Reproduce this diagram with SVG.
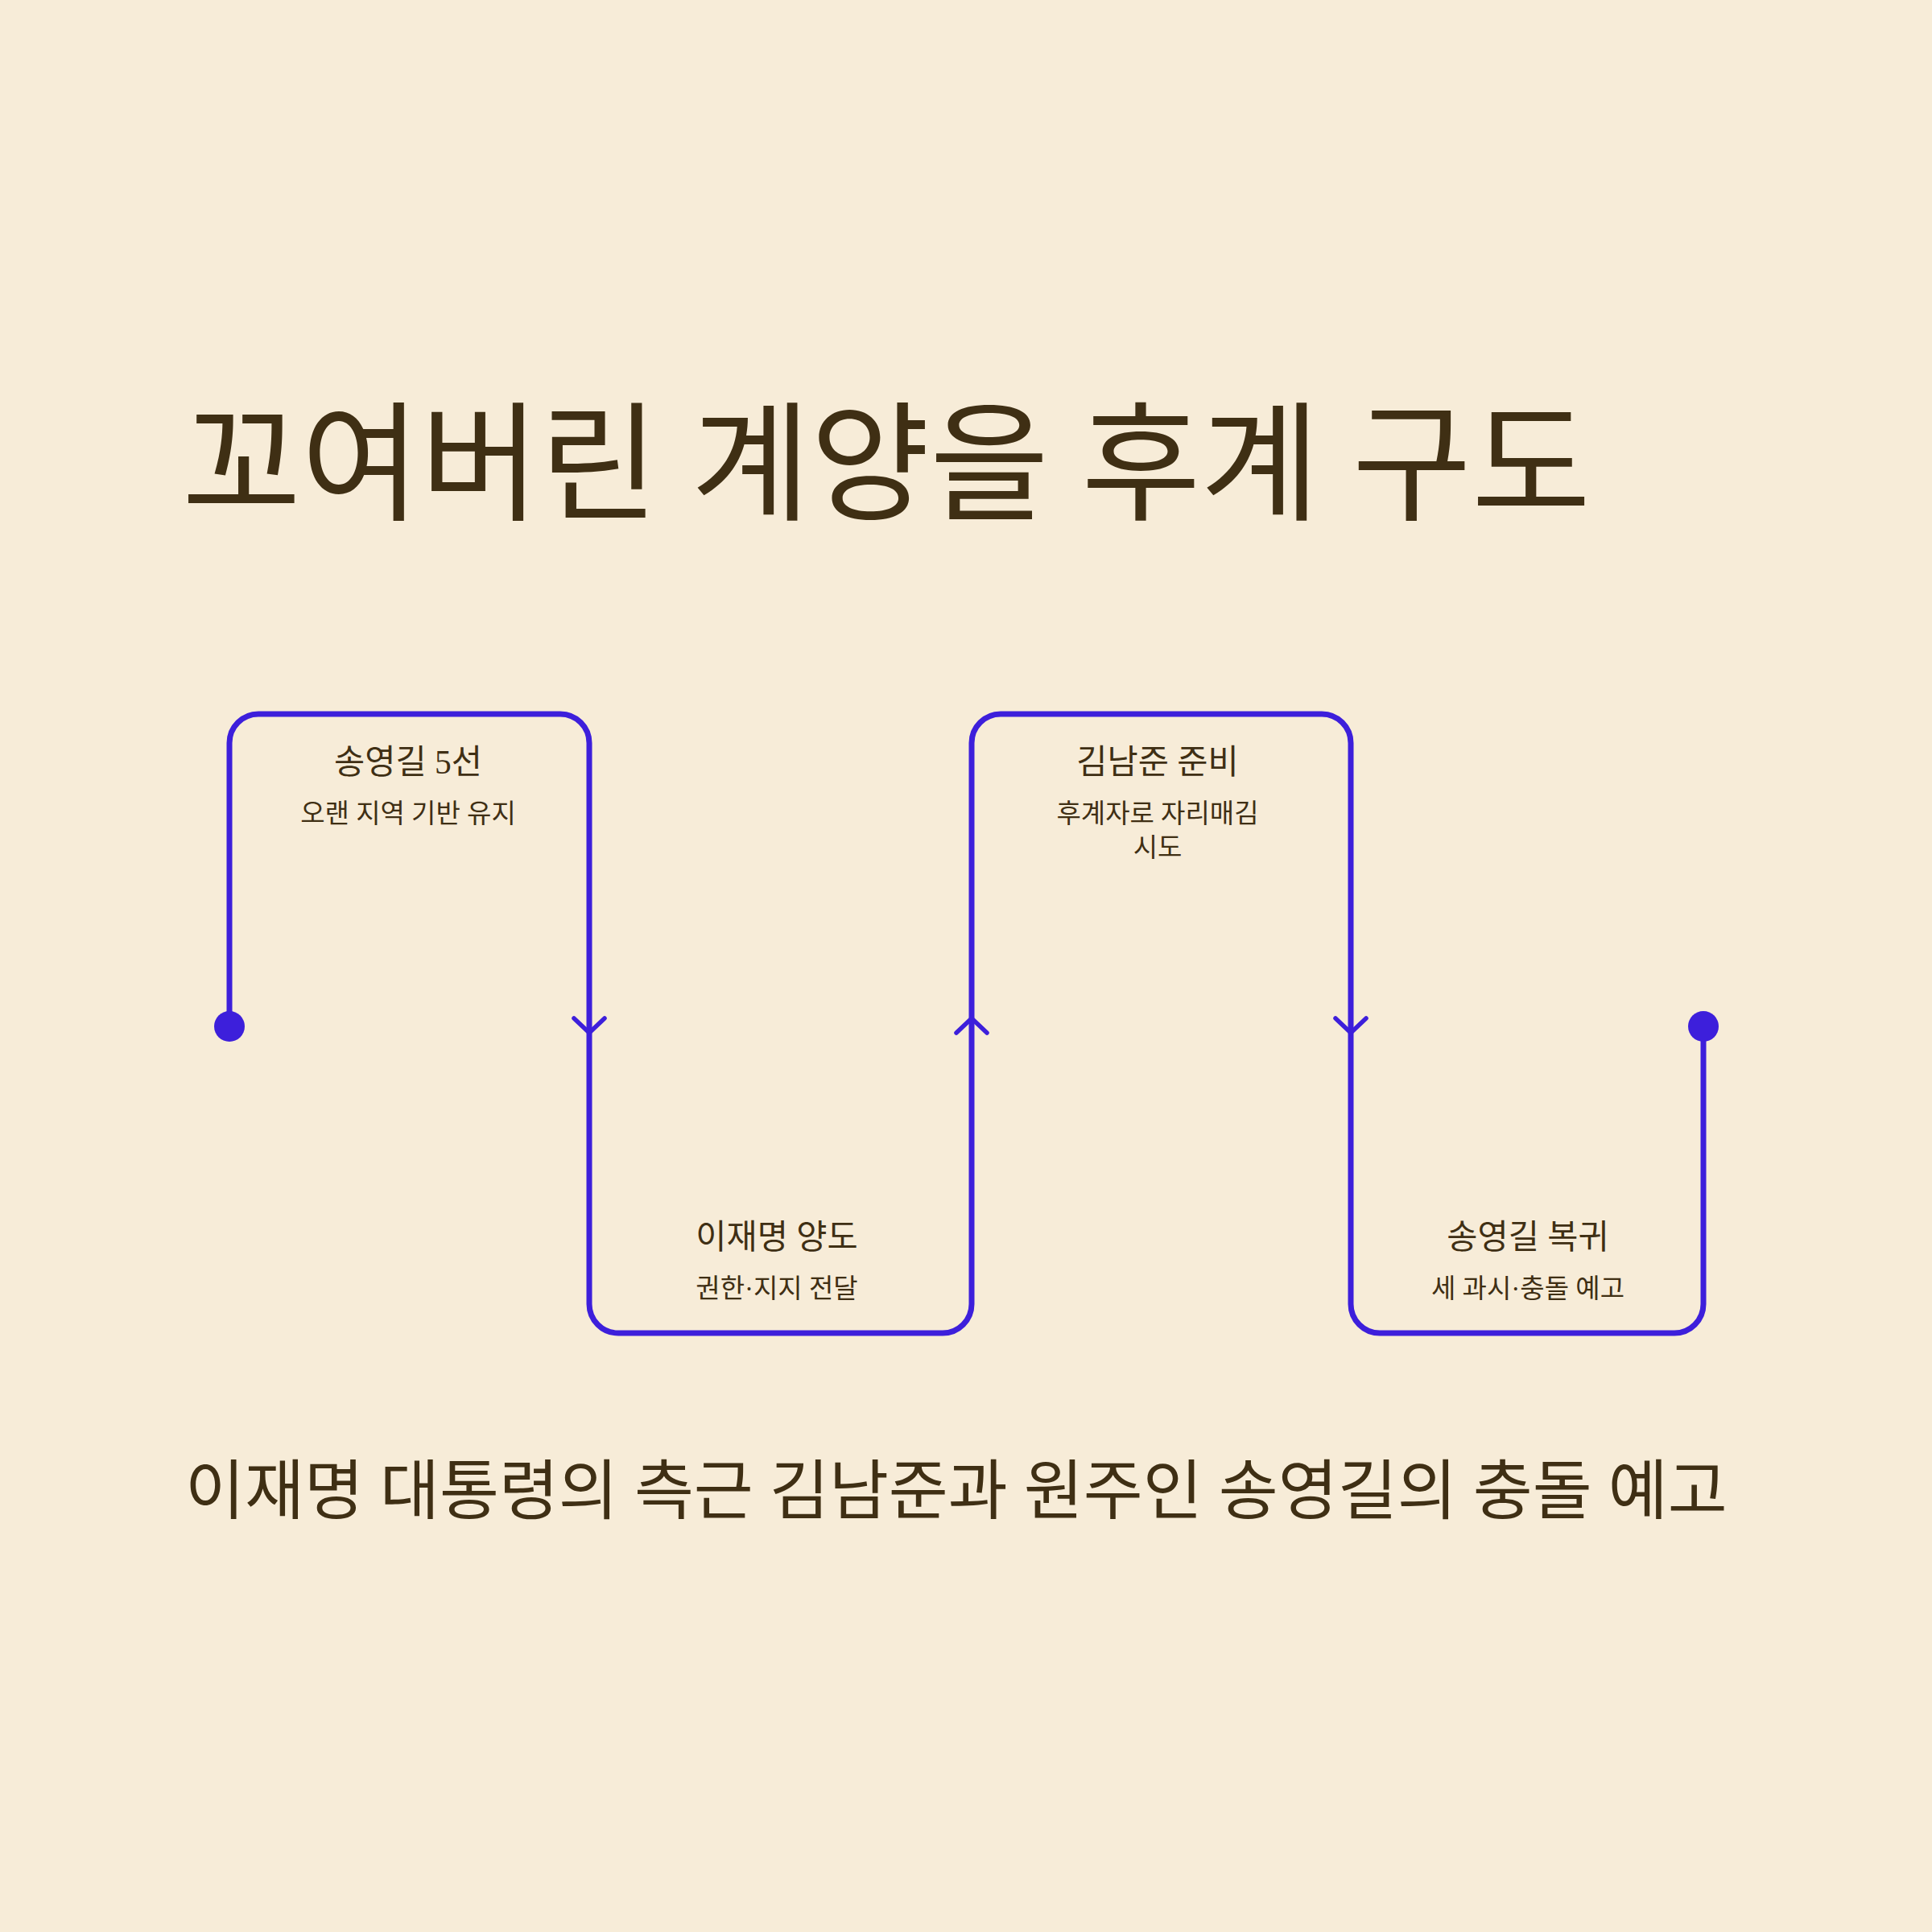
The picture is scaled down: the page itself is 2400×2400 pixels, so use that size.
<svg xmlns="http://www.w3.org/2000/svg" width="2400" height="2400" viewBox="0 0 2400 2400">
<style>
text{font-family:"Liberation Serif","Noto Sans CJK KR",serif;fill:#3F2F14;}
.title{font-size:161px;}
.caption{font-size:80.4px;}
.nt{font-size:41.5px;text-anchor:middle;}
.ns{font-size:33px;text-anchor:middle;}
.line{fill:none;stroke:#3D1FDB;stroke-width:7;stroke-linejoin:round;stroke-linecap:round;}
.chev{fill:none;stroke:#3D1FDB;stroke-width:5.5;stroke-linejoin:miter;stroke-linecap:round;}
.dot{fill:#3D1FDB;}
</style>
<rect width="2400" height="2400" fill="#F7ECD8"/>
<text class="title" x="226" y="634">꼬여버린 계양을 후계 구도</text>
<g id="connectors">
<path class="line" d="M285 1275 V923 A36 36 0 0 1 321 887 H696 A36 36 0 0 1 732 923 V1620 A36 36 0 0 0 768 1656 H1171 A36 36 0 0 0 1207 1620 V923 A36 36 0 0 1 1243 887 H1642 A36 36 0 0 1 1678 923 V1620 A36 36 0 0 0 1714 1656 H2080 A36 36 0 0 0 2116 1620 V1275"/>
<polyline class="chev" points="713,1265 732,1283 751,1265"/>
<polyline class="chev" points="1188,1283 1207,1265 1226,1283"/>
<polyline class="chev" points="1659,1265 1678,1283 1697,1265"/>
<circle class="dot" cx="285" cy="1275" r="19"/>
<circle class="dot" cx="2116" cy="1275" r="19"/>
</g>
<g id="node1">
<text class="nt" x="507" y="961">송영길 5선</text>
<text class="ns" x="507" y="1022">오랜 지역 기반 유지</text>
</g>
<g id="node2">
<text class="nt" x="965" y="1551">이재명 양도</text>
<text class="ns" x="965" y="1612">권한·지지 전달</text>
</g>
<g id="node3">
<text class="nt" x="1438" y="961">김남준 준비</text>
<text class="ns" x="1438" y="1022">후계자로 자리매김</text>
<text class="ns" x="1438" y="1064">시도</text>
</g>
<g id="node4">
<text class="nt" x="1898" y="1551">송영길 복귀</text>
<text class="ns" x="1898" y="1612">세 과시·충돌 예고</text>
</g>
<text class="caption" x="230" y="1880">이재명 대통령의 측근 김남준과 원주인 송영길의 충돌 예고</text>
</svg>
